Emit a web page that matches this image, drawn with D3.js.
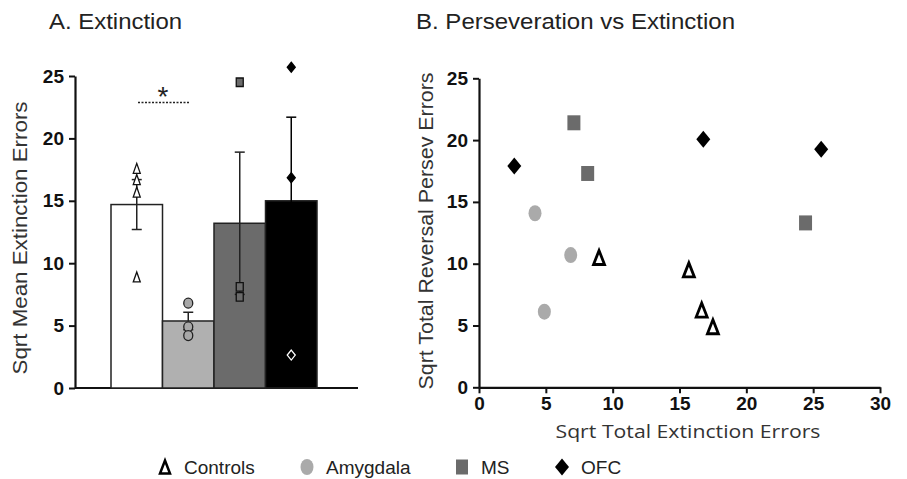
<!DOCTYPE html>
<html><head><meta charset="utf-8">
<script src="https://cdn.jsdelivr.net/npm/d3@7"></script>
<style>body{margin:0;background:#fff;} svg{display:block;}</style>
</head><body>
<svg id="c" width="907" height="479"></svg>
<script>
// ---- data ----
const groups = ["Controls", "Amygdala", "MS", "OFC"];
const barMeans = [14.7, 5.37, 13.2, 15.0];
const barSEM = [2.0, 0.7, 5.7, 6.7];
const ptsControls = [17.6, 16.7, 15.7, 8.9];
const ptsAmygdala = [6.8, 4.9, 4.2];
const ptsMS = [24.5, 8.1, 7.3];
const ptsOFC = [25.7, 16.85, 2.64];
const yTicksA = [0, 5, 10, 15, 20, 25];

const scControlsX = [8.98, 15.7, 16.66, 17.5];
const scControlsY = [10.5, 9.5, 6.25, 4.9];
const scAmygdalaX = [4.19, 6.86, 4.89];
const scAmygdalaY = [14.08, 10.7, 6.12];
const scMSX = [7.1, 8.13, 24.43];
const scMSY = [21.4, 17.3, 13.3];
const scOFCX = [2.64, 16.78, 25.6];
const scOFCY = [17.9, 20.06, 19.25];
const xTicksB = [0, 5, 10, 15, 20, 25, 30];
const yTicksB = [0, 5, 10, 15, 20, 25];

const svg = d3.select("#c");
const FONT = "Liberation Sans, Arial, sans-serif";
const fillCol = {Controls: "#ffffff", Amygdala: "#b0b0b0", MS: "#6b6b6b", OFC: "#000000"};
const barLineCol = {Controls: "#222", Amygdala: "#222", MS: "#222", OFC: "#000"};

// shape path generators (centered at 0,0)
function tri(w, h) { return `M0,${-h/2}L${w/2},${h/2}L${-w/2},${h/2}Z`; }
function dia(w, h) { return `M0,${-h/2}L${w/2},0L0,${h/2}L${-w/2},0Z`; }
function sq(w, h) { return `M${-w/2},${-h/2}h${w}v${h}h${-w}Z`; }

// ---- titles ----
svg.append("text").attr("x", 49).attr("y", 29).attr("font-family", FONT)
  .attr("font-size", 22).attr("fill", "#222")
  .attr("textLength", 133).attr("lengthAdjust", "spacingAndGlyphs").text("A. Extinction");
svg.append("text").attr("x", 416).attr("y", 29).attr("font-family", FONT)
  .attr("font-size", 22).attr("fill", "#222")
  .attr("textLength", 319).attr("lengthAdjust", "spacingAndGlyphs").text("B. Perseveration vs Extinction");

// ---- Panel A ----
const gA = svg.append("g");
const yA = d3.scaleLinear().domain([0, 25]).range([388, 76]);
const xA = d3.scaleBand().domain(groups).range([111, 317]).paddingInner(0).paddingOuter(0);

const axA = gA.append("g").attr("transform", "translate(75,0)")
  .call(d3.axisLeft(yA).tickValues(yTicksA).tickSize(6).tickSizeOuter(0).tickPadding(5));
axA.select(".domain").attr("stroke", "#111").attr("stroke-width", 2.2);
axA.selectAll(".tick line").attr("stroke", "#111").attr("stroke-width", 2);
axA.selectAll("text").attr("font-family", FONT).attr("font-weight", "bold")
  .attr("font-size", 19).attr("fill", "#111");
gA.append("line").attr("x1", 75).attr("x2", 358).attr("y1", yA(0)).attr("y2", yA(0))
  .attr("stroke", "#111").attr("stroke-width", 2.2);

gA.selectAll("rect.bar").data(groups).join("rect").attr("class", "bar")
  .attr("x", d => xA(d)).attr("width", xA.bandwidth())
  .attr("y", (d, i) => yA(barMeans[i])).attr("height", (d, i) => yA(0) - yA(barMeans[i]))
  .attr("fill", d => fillCol[d]).attr("stroke", "#222").attr("stroke-width", 1.5);

// error bars
groups.forEach((g, i) => {
  const cx = xA(g) + xA.bandwidth() / 2;
  const lo = yA(barMeans[i] - barSEM[i]), hi = yA(barMeans[i] + barSEM[i]);
  const col = barLineCol[g];
  gA.append("line").attr("x1", cx).attr("x2", cx).attr("y1", lo).attr("y2", hi).attr("stroke", col).attr("stroke-width", 1.5);
  [lo, hi].forEach(y => gA.append("line").attr("x1", cx - 5).attr("x2", cx + 5).attr("y1", y).attr("y2", y)
    .attr("stroke", col).attr("stroke-width", 1.5));
});

// points in A
const cxA = g => xA(g) + xA.bandwidth() / 2;
gA.selectAll("path.pc").data(ptsControls).join("path").attr("class", "pc")
  .attr("transform", d => `translate(${cxA("Controls")},${yA(d)})`).attr("d", tri(7, 10))
  .attr("fill", "#fff").attr("stroke", "#111").attr("stroke-width", 1.3);
gA.selectAll("ellipse.pa").data(ptsAmygdala).join("ellipse").attr("class", "pa")
  .attr("cx", cxA("Amygdala")).attr("cy", d => yA(d)).attr("rx", 4.5).attr("ry", 5)
  .attr("fill", "#a8a8a8").attr("stroke", "#222").attr("stroke-width", 1.3);
gA.selectAll("path.pm").data(ptsMS).join("path").attr("class", "pm")
  .attr("transform", d => `translate(${cxA("MS")},${yA(d)})`).attr("d", sq(7, 8.5))
  .attr("fill", "#6b6b6b").attr("stroke", "#111").attr("stroke-width", 1.3);
gA.selectAll("path.po").data(ptsOFC).join("path").attr("class", "po")
  .attr("transform", d => `translate(${cxA("OFC")},${yA(d)})`).attr("d", dia(8, 10))
  .attr("fill", "#000")
  .attr("stroke", d => d < barMeans[3] ? "#fff" : "#000").attr("stroke-width", 1.3);

// significance
gA.append("line").attr("x1", 138).attr("x2", 189).attr("y1", 102.5).attr("y2", 102.5)
  .attr("stroke", "#222").attr("stroke-width", 1.3).attr("stroke-dasharray", "2,1.5");
gA.append("text").attr("x", 163).attr("y", 106).attr("text-anchor", "middle")
  .attr("font-family", FONT).attr("font-size", 28).attr("fill", "#222").text("*");

gA.append("text").attr("transform", "translate(27,238) rotate(-90)").attr("text-anchor", "middle")
  .attr("font-family", FONT).attr("font-size", 20).attr("fill", "#333")
  .attr("textLength", 273).attr("lengthAdjust", "spacingAndGlyphs")
  .text("Sqrt Mean Extinction Errors");

// ---- Panel B ----
const gB = svg.append("g");
const xB = d3.scaleLinear().domain([0, 30]).range([479, 880]);
const yB = d3.scaleLinear().domain([0, 25]).range([387.3, 78.3]);

const axBy = gB.append("g").attr("transform", "translate(479,0)")
  .call(d3.axisLeft(yB).tickValues(yTicksB).tickSize(6).tickSizeOuter(0).tickPadding(5));
const axBx = gB.append("g").attr("transform", `translate(0,${yB(0)})`)
  .call(d3.axisBottom(xB).tickValues(xTicksB).tickSize(6).tickSizeOuter(0).tickPadding(3));
[axBy, axBx].forEach(a => {
  a.select(".domain").attr("stroke", "#111").attr("stroke-width", 2.2);
  a.selectAll(".tick line").attr("stroke", "#111").attr("stroke-width", 2);
  a.selectAll("text").attr("font-family", FONT).attr("font-weight", "bold")
    .attr("font-size", 19).attr("fill", "#111");
});

const zip = (xs, ys) => xs.map((x, i) => [x, ys[i]]);
gB.selectAll("ellipse.sa").data(zip(scAmygdalaX, scAmygdalaY)).join("ellipse").attr("class", "sa")
  .attr("cx", d => xB(d[0])).attr("cy", d => yB(d[1])).attr("rx", 6.5).attr("ry", 8)
  .attr("fill", "#aaaaaa");
gB.selectAll("path.sm").data(zip(scMSX, scMSY)).join("path").attr("class", "sm")
  .attr("transform", d => `translate(${xB(d[0])},${yB(d[1])})`).attr("d", sq(13, 15))
  .attr("fill", "#6b6b6b");
gB.selectAll("path.so").data(zip(scOFCX, scOFCY)).join("path").attr("class", "so")
  .attr("transform", d => `translate(${xB(d[0])},${yB(d[1])})`).attr("d", dia(14, 17))
  .attr("fill", "#000");
gB.selectAll("path.sc").data(zip(scControlsX, scControlsY)).join("path").attr("class", "sc")
  .attr("transform", d => `translate(${xB(d[0])},${yB(d[1])})`).attr("d", tri(11, 14))
  .attr("fill", "#fff").attr("stroke", "#000").attr("stroke-width", 2.8).attr("stroke-linejoin", "miter");

gB.append("text").attr("transform", "translate(433,231) rotate(-90)").attr("text-anchor", "middle")
  .attr("font-family", FONT).attr("font-size", 20).attr("fill", "#333")
  .attr("textLength", 317).attr("lengthAdjust", "spacingAndGlyphs")
  .text("Sqrt Total Reversal Persev Errors");
gB.append("text").attr("x", 688).attr("y", 438).attr("text-anchor", "middle")
  .attr("font-family", "Open Sans, sans-serif").attr("font-size", 19).attr("fill", "#333")
  .attr("textLength", 265).attr("lengthAdjust", "spacingAndGlyphs")
  .text("Sqrt Total Extinction Errors");

// ---- legend ----
const lg = svg.append("g");
const legX = [165, 307, 462, 562];
groups.forEach((g, i) => {
  const cx = legX[i], cy = 467;
  if (g === "Controls") lg.append("path").attr("transform", `translate(${cx},${cy})`).attr("d", tri(10, 13))
    .attr("fill", "#fff").attr("stroke", "#000").attr("stroke-width", 2.5);
  if (g === "Amygdala") lg.append("ellipse").attr("cx", cx).attr("cy", cy).attr("rx", 6.5).attr("ry", 8).attr("fill", "#aaaaaa");
  if (g === "MS") lg.append("path").attr("transform", `translate(${cx},${cy})`).attr("d", sq(12, 15)).attr("fill", "#6b6b6b");
  if (g === "OFC") lg.append("path").attr("transform", `translate(${cx},${cy})`).attr("d", dia(14, 17)).attr("fill", "#000");
  lg.append("text").attr("x", cx + 19).attr("y", cy + 7).attr("font-family", FONT).attr("font-size", 19)
    .attr("fill", "#222").text(g);
});
</script>
</body></html>
